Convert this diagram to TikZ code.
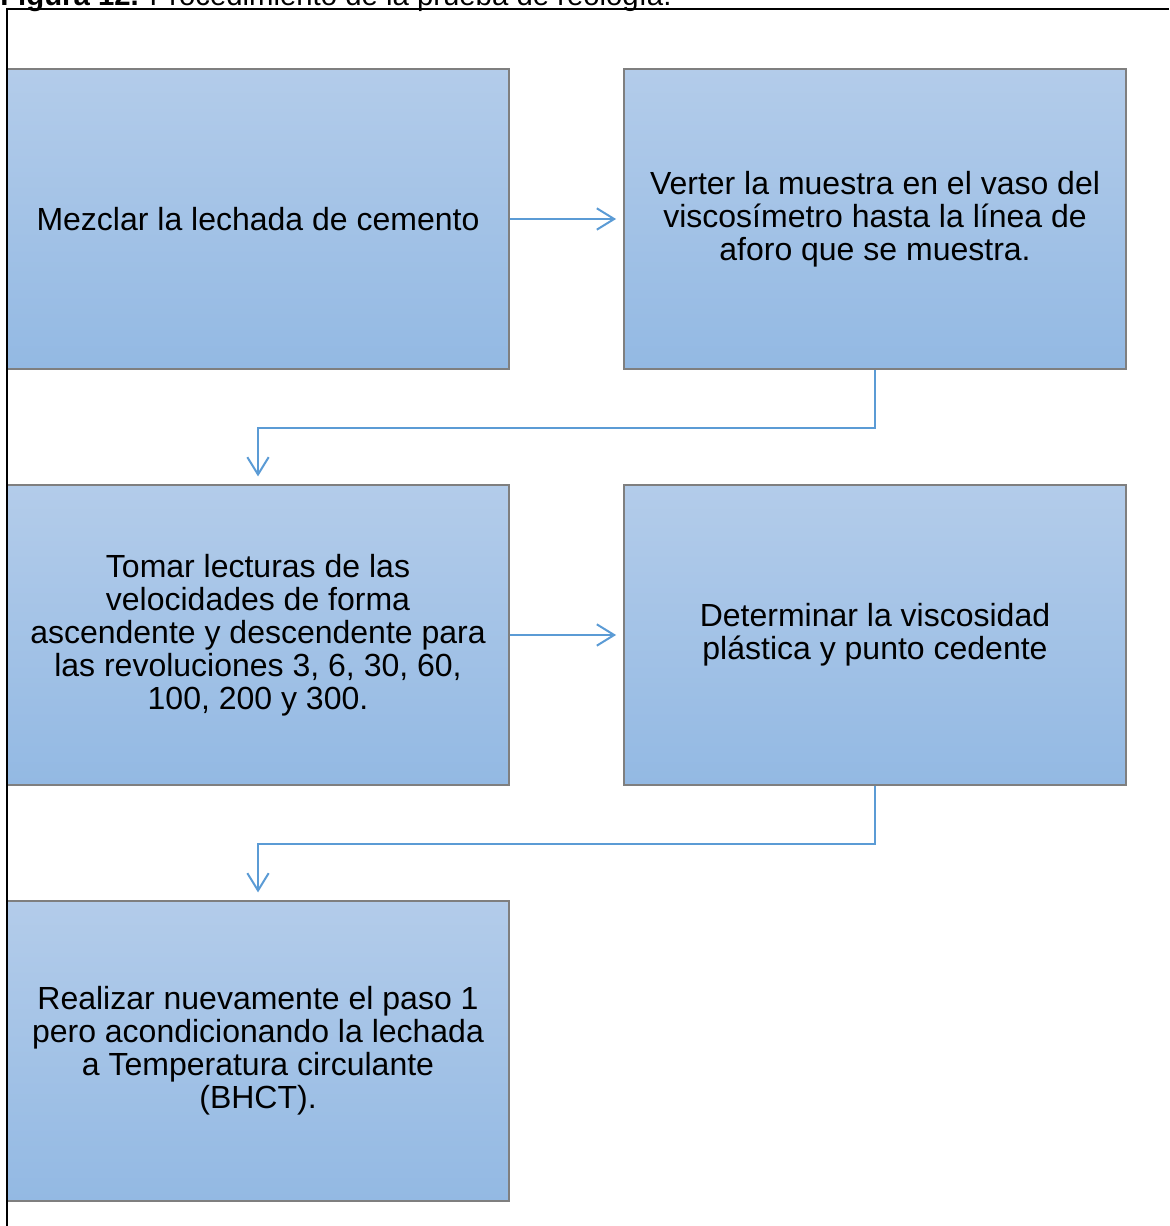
\documentclass[tikz,border=0pt]{standalone}
\usepackage{fontspec}
\setmainfont{Liberation Sans}
\usetikzlibrary{arrows.meta}
\definecolor{boxtop}{HTML}{B3CCEA}
\definecolor{boxbot}{HTML}{93B9E3}
\definecolor{boxedge}{HTML}{7F7F7F}
\definecolor{flow}{HTML}{5B9BD5}
\begin{document}
\begin{tikzpicture}[x=0.75pt,y=-0.75pt,
  stepbox/.style={draw=boxedge, line width=0.9pt, top color=boxtop, bottom color=boxbot,
    minimum width=376.5pt, minimum height=225pt, inner sep=0pt, align=center,
    font=\fontsize{24}{24.75}\selectfont},
  flowline/.style={draw=flow, line width=1.5pt,
    -{Straight Barb[length=13pt,width=16pt,line width=1.5pt]}},
]
\useasboundingbox (0,0) rectangle (1169,1226);
\clip (0,0) rectangle (1169,1226);

% caption
\node[anchor=base west, inner sep=0pt, font=\fontsize{22}{26}\selectfont] (title) at (0,6)
  {\textbf{Figura 12.} Procedimiento de la prueba de reología.};

% steps
\node[stepbox] (b1) at (258,219) {Mezclar la lechada de cemento};
\node[stepbox] (b2) at (875,219) {Verter la muestra en el vaso del\\viscosímetro hasta la línea de\\aforo que se muestra.};
\node[stepbox] (b3) at (258,635) {Tomar lecturas de las\\velocidades de forma\\ascendente y descendente para\\las revoluciones 3, 6, 30, 60,\\100, 200 y 300.};
\node[stepbox] (b4) at (875,635) {Determinar la viscosidad\\plástica y punto cedente};
\node[stepbox] (b5) at (258,1051) {Realizar nuevamente el paso 1\\pero acondicionando la lechada\\a Temperatura circulante\\(BHCT).};

% connectors
\draw[flowline, shorten >=5.5pt] (b1.east) -- (b2.west);
\draw[flowline, shorten >=5.5pt] (b3.east) -- (b4.west);
\draw[flowline, shorten >=6pt] (b2.south) -- ++(0,58) -| (b3.north);
\draw[flowline, shorten >=6pt] (b4.south) -- ++(0,58) -| (b5.north);

% frame
\draw[line width=1.5pt] (1169,9) -- (6.5,9) -- (6.5,1226);
\end{tikzpicture}
\end{document}
